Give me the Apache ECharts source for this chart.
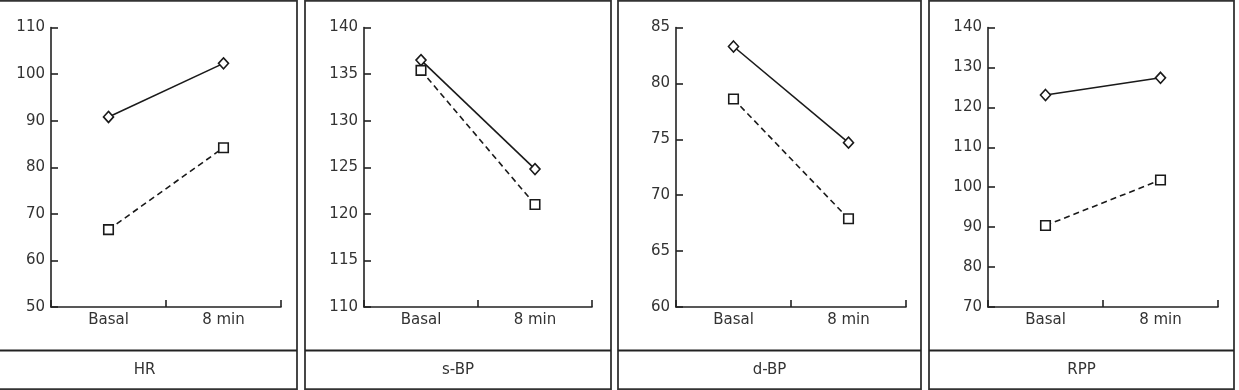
<!DOCTYPE html>
<html>
<head>
<meta charset="utf-8">
<script src="https://cdn.jsdelivr.net/npm/echarts@6/dist/echarts.min.js"></script>
<style>
html,body{margin:0;padding:0;background:#fff;}
#chart{width:1239px;height:390px;}
</style>
</head>
<body>
<div id="chart"></div>
<script>
// ---- data ----
const categories = ['Basal', '8 min'];
const panelTitles = ['HR', 's-BP', 'd-BP', 'RPP'];
const solidValues = [
  [90.8, 102.3],   // HR
  [136.5, 124.8],  // s-BP
  [83.3, 74.7],    // d-BP
  [123.1, 127.4]   // RPP
];
const dashedValues = [
  [66.6, 84.2],
  [135.4, 121.0],
  [78.6, 67.9],
  [90.4, 101.8]
];
const yMin = [50, 110, 60, 70];
const yMax = [110, 140, 85, 140];
const yInterval = [10, 5, 5, 10];

// ---- layout ----
const gridLeft = [51, 364, 676, 988];
const gridWidth = [230, 228, 230, 230];
const panelX0 = [-8, 305, 618, 929];
const panelX1 = [297, 611, 921, 1234];

const FONT = 'DejaVu Sans';
const TXT = '#333';
const AX = '#222';

const grids = [], xAxes = [], yAxes = [], series = [], graphics = [];
for (let i = 0; i < 4; i++) {
  grids.push({left: gridLeft[i], width: gridWidth[i], top: 27.5, bottom: 83});
  xAxes.push({
    type: 'category', gridIndex: i, data: categories, boundaryGap: true,
    axisLine: {lineStyle: {color: AX, width: 1.6}},
    axisTick: {show: true, inside: true, length: 7, lineStyle: {color: AX, width: 1.6}},
    axisLabel: {color: TXT, fontFamily: FONT, fontSize: 15, margin: 6},
    splitLine: {show: false}
  });
  yAxes.push({
    type: 'value', gridIndex: i, min: yMin[i], max: yMax[i], interval: yInterval[i],
    axisLine: {show: true, lineStyle: {color: AX, width: 1.6}},
    axisTick: {show: true, inside: true, length: 7, lineStyle: {color: AX, width: 1.6}},
    axisLabel: {color: TXT, fontFamily: FONT, fontSize: 15, margin: 6},
    splitLine: {show: false}
  });
  series.push({
    type: 'line', xAxisIndex: i, yAxisIndex: i, data: solidValues[i],
    symbol: 'diamond', symbolSize: [10, 11],
    lineStyle: {color: '#1a1a1a', width: 1.6, type: 'solid'},
    itemStyle: {color: '#fff', borderColor: '#1a1a1a', borderWidth: 1.6},
    z: 3, animation: false
  });
  series.push({
    type: 'line', xAxisIndex: i, yAxisIndex: i, data: dashedValues[i],
    symbol: 'rect', symbolSize: 9.5,
    lineStyle: {color: '#1a1a1a', width: 1.6, type: [6, 4]},
    itemStyle: {color: '#fff', borderColor: '#1a1a1a', borderWidth: 1.6},
    z: 3, animation: false
  });
  graphics.push({
    type: 'rect', silent: true,
    shape: {x: panelX0[i], y: 0.75, width: panelX1[i] - panelX0[i], height: 388.5},
    style: {fill: null, stroke: '#333', lineWidth: 1.8}
  });
  graphics.push({
    type: 'line', silent: true,
    shape: {x1: panelX0[i], y1: 350.5, x2: panelX1[i], y2: 350.5},
    style: {stroke: '#222', lineWidth: 1.8}
  });
  graphics.push({
    type: 'text', silent: true,
    x: (panelX0[i] + panelX1[i]) / 2, y: 370,
    style: {text: panelTitles[i], fill: TXT, font: '15px "' + FONT + '"', align: 'center', verticalAlign: 'middle'}
  });
}

const chart = echarts.init(document.getElementById('chart'), null, {renderer: 'canvas'});
chart.setOption({
  animation: false,
  backgroundColor: '#fff',
  grid: grids, xAxis: xAxes, yAxis: yAxes, series: series,
  graphic: graphics
});
</script>
</body>
</html>
